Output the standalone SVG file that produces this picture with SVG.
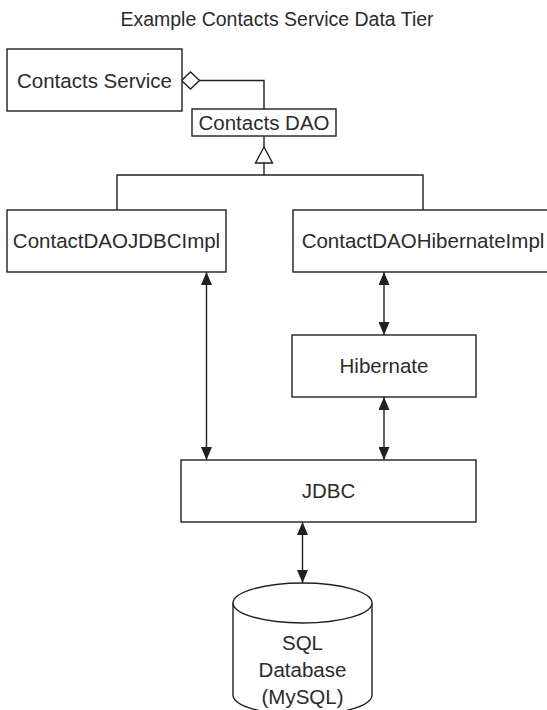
<svg xmlns="http://www.w3.org/2000/svg" width="547" height="710" viewBox="0 0 547 710">
  <style>
    .box { fill: #ffffff; stroke: #231f20; stroke-width: 1.4; }
    .line { fill: none; stroke: #231f20; stroke-width: 1.4; }
    .label { font-family: "Liberation Sans", Arial, sans-serif; font-size: 20.5px; fill: #2b2b2b; text-anchor: middle; }
    .title { font-family: "Liberation Sans", Arial, sans-serif; font-size: 19.5px; fill: #2b2b2b; text-anchor: middle; }
  </style>
  <defs>
    <marker id="arrow" viewBox="0 0 13 11" refX="13" refY="5.5" markerWidth="13" markerHeight="11" markerUnits="userSpaceOnUse" orient="auto-start-reverse">
      <path d="M0,0 L13,5.5 L0,11 Z" fill="#231f20"/>
    </marker>
  </defs>

  <rect width="547" height="710" fill="#ffffff"/>

  <text class="title" x="277" y="26">Example Contacts Service Data Tier</text>

  <!-- connectors -->
  <g id="connectors">
    <!-- aggregation: service holds DAO -->
    <polyline class="line" points="199,80.5 264,80.5 264,109"/>
    <polygon class="box" points="181.5,80.5 190.5,72 199.5,80.5 190.5,89"/>
    <!-- generalization: implementations realise DAO -->
    <line class="line" x1="264" y1="136" x2="264" y2="147"/>
    <polygon class="box" points="264,147 255.5,163 272.5,163"/>
    <polyline class="line" points="264,163 264,175"/>
    <polyline class="line" points="117,210 117,175 423,175 423,210"/>
    <!-- data access paths -->
    <line class="line" x1="206.5" y1="272" x2="206.5" y2="460" marker-start="url(#arrow)" marker-end="url(#arrow)"/>
    <line class="line" x1="384" y1="272" x2="384" y2="335" marker-start="url(#arrow)" marker-end="url(#arrow)"/>
    <line class="line" x1="384" y1="397" x2="384" y2="460" marker-start="url(#arrow)" marker-end="url(#arrow)"/>
    <line class="line" x1="302.5" y1="522" x2="302.5" y2="583" marker-start="url(#arrow)" marker-end="url(#arrow)"/>
  </g>

  <g id="contacts-service">
    <rect class="box" x="7" y="49" width="175" height="62"/>
    <text class="label" x="94.5" y="87.5">Contacts Service</text>
  </g>

  <g id="contacts-dao">
    <rect class="box" x="192" y="109" width="144" height="27"/>
    <text class="label" x="264" y="129.5">Contacts DAO</text>
  </g>

  <g id="jdbc-impl">
    <rect class="box" x="7" y="210" width="219" height="62"/>
    <text class="label" x="116.5" y="248">ContactDAOJDBCImpl</text>
  </g>

  <g id="hibernate-impl">
    <rect class="box" x="293" y="210" width="262" height="62"/>
    <text class="label" x="423" y="248">ContactDAOHibernateImpl</text>
  </g>

  <g id="hibernate">
    <rect class="box" x="292" y="335" width="184" height="62"/>
    <text class="label" x="384" y="373">Hibernate</text>
  </g>

  <g id="jdbc">
    <rect class="box" x="181" y="460" width="295" height="62"/>
    <text class="label" x="328.5" y="498">JDBC</text>
  </g>

  <g id="database">
    <path class="box" d="M233,603 L233,695 A69.5,20 0 0 0 372,695 L372,603"/>
    <ellipse class="box" cx="302.5" cy="603" rx="69.5" ry="20"/>
    <text class="label" x="302.5" y="650">SQL</text>
    <text class="label" x="302.5" y="677">Database</text>
    <text class="label" x="302.5" y="704">(MySQL)</text>
  </g>
</svg>
